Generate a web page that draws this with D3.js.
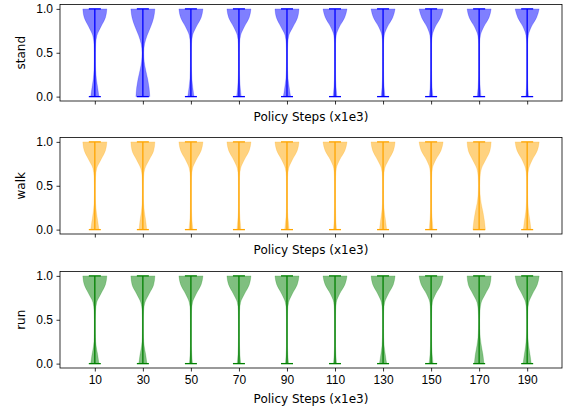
<!DOCTYPE html>
<html>
<head>
<meta charset="utf-8">
<script src="https://cdn.jsdelivr.net/npm/d3@7"></script>
<style>
    body { margin: 0; background: #fff; }
    svg { display: block; font-family: "DejaVu Sans", sans-serif; }
    .axis text { font-size: 12px; fill: #000; }
    .axis path, .axis line { stroke: #000; stroke-width: 0.8; }
    .chart-label { font-size: 12px; fill: #000; }
</style>
</head>
<body>
<div id="visualization-container"></div>
<script>
// x positions of the violins (policy steps, x1e3)
const steps = [10, 30, 50, 70, 90, 110, 130, 150, 170, 190];
// y levels at which the violin widths are read (value range 0..1)
const levels = [0, 0.1, 0.2, 0.3, 0.4, 0.5, 0.6, 0.7, 0.8, 0.9, 1.0];
const yTicks = [0.0, 0.5, 1.0];

// relative violin widths at each level (1 = widest), one row per step
const standWidths = [
    [0.34, 0.24, 0.13, 0.07, 0.05, 0.05, 0.07, 0.18, 0.52, 0.88, 1.0],
    [0.58, 0.52, 0.40, 0.24, 0.11, 0.07, 0.14, 0.36, 0.66, 0.90, 1.0],
    [0.26, 0.16, 0.08, 0.05, 0.04, 0.04, 0.05, 0.14, 0.46, 0.85, 1.0],
    [0.19, 0.11, 0.06, 0.04, 0.04, 0.04, 0.05, 0.14, 0.46, 0.85, 1.0],
    [0.30, 0.19, 0.09, 0.05, 0.04, 0.04, 0.06, 0.16, 0.52, 0.88, 1.0],
    [0.16, 0.09, 0.05, 0.04, 0.04, 0.04, 0.04, 0.10, 0.38, 0.80, 1.0],
    [0.16, 0.09, 0.05, 0.04, 0.04, 0.04, 0.04, 0.10, 0.38, 0.80, 1.0],
    [0.15, 0.08, 0.05, 0.04, 0.04, 0.04, 0.04, 0.10, 0.36, 0.78, 1.0],
    [0.16, 0.09, 0.05, 0.04, 0.04, 0.04, 0.04, 0.11, 0.40, 0.82, 1.0],
    [0.11, 0.06, 0.04, 0.04, 0.04, 0.04, 0.04, 0.10, 0.36, 0.78, 1.0]
];
const walkWidths = [
    [0.34, 0.24, 0.13, 0.06, 0.04, 0.04, 0.06, 0.16, 0.52, 0.88, 1.0],
    [0.32, 0.24, 0.13, 0.06, 0.04, 0.04, 0.06, 0.18, 0.54, 0.90, 1.0],
    [0.17, 0.09, 0.05, 0.04, 0.04, 0.04, 0.05, 0.14, 0.46, 0.85, 1.0],
    [0.17, 0.10, 0.05, 0.04, 0.04, 0.04, 0.05, 0.14, 0.46, 0.85, 1.0],
    [0.19, 0.11, 0.05, 0.04, 0.04, 0.04, 0.05, 0.14, 0.46, 0.85, 1.0],
    [0.13, 0.07, 0.05, 0.04, 0.04, 0.04, 0.05, 0.11, 0.40, 0.82, 1.0],
    [0.30, 0.21, 0.11, 0.05, 0.04, 0.04, 0.05, 0.14, 0.48, 0.86, 1.0],
    [0.16, 0.10, 0.05, 0.04, 0.04, 0.04, 0.05, 0.11, 0.40, 0.82, 1.0],
    [0.52, 0.44, 0.32, 0.17, 0.08, 0.05, 0.08, 0.20, 0.56, 0.90, 1.0],
    [0.32, 0.23, 0.12, 0.06, 0.04, 0.04, 0.05, 0.14, 0.44, 0.84, 1.0]
];
const runWidths = [
    [0.34, 0.24, 0.11, 0.05, 0.04, 0.04, 0.06, 0.16, 0.52, 0.88, 1.0],
    [0.34, 0.24, 0.11, 0.05, 0.04, 0.04, 0.06, 0.18, 0.54, 0.90, 1.0],
    [0.13, 0.07, 0.04, 0.04, 0.04, 0.04, 0.05, 0.14, 0.46, 0.85, 1.0],
    [0.15, 0.08, 0.05, 0.04, 0.04, 0.04, 0.05, 0.14, 0.48, 0.86, 1.0],
    [0.13, 0.07, 0.04, 0.04, 0.04, 0.04, 0.05, 0.14, 0.46, 0.85, 1.0],
    [0.13, 0.07, 0.04, 0.04, 0.04, 0.04, 0.05, 0.11, 0.40, 0.82, 1.0],
    [0.30, 0.19, 0.09, 0.05, 0.04, 0.04, 0.05, 0.14, 0.46, 0.85, 1.0],
    [0.17, 0.09, 0.05, 0.04, 0.04, 0.04, 0.05, 0.11, 0.40, 0.82, 1.0],
    [0.40, 0.32, 0.19, 0.09, 0.05, 0.04, 0.07, 0.18, 0.54, 0.90, 1.0],
    [0.34, 0.24, 0.13, 0.06, 0.04, 0.04, 0.05, 0.14, 0.46, 0.84, 1.0]
];

const panels = [
    { name: "stand", widths: standWidths, color: "#0000ff" },
    { name: "walk", widths: walkWidths, color: "#ffa500" },
    { name: "run", widths: runWidths, color: "#008000" }
];

const violinWidth = 10;   // in step units
const capWidth = 5;

drawFigure();


function drawFigure() {
    const widthWithMargin = 563;
    const heightWithMargin = 413;
    const left = 60, right = 562;
    const panelTops = [4.5, 137.5, 271.5];
    const panelHeight = 96.5;

    const svg = d3.select('#visualization-container').append('svg')
        .attr('width', widthWithMargin)
        .attr('height', heightWithMargin);

    const xScale = d3.scaleLinear()
        .domain([-4.5, 204.5])
        .range([left, right]);

    panels.forEach((panel, i) => {
        const top = panelTops[i];
        const bottom = top + panelHeight;
        const isLast = i === panels.length - 1;

        const yScale = d3.scaleLinear()
            .domain([-0.05, 1.05])
            .range([bottom, top]);

        const g = svg.append('g');

        const halfPx = xScale(violinWidth / 2) - xScale(0);
        const area = d3.area()
            .y((d, k) => yScale(levels[k]))
            .curve(d3.curveMonotoneY);

        steps.forEach((step, j) => {
            const cx = xScale(step);
            const w = panel.widths[j];

            g.append('path')
                .datum(w)
                .attr('d', area.x0(d => cx - d * halfPx).x1(d => cx + d * halfPx)(w))
                .attr('fill', panel.color)
                .attr('fill-opacity', 0.5)
                .attr('stroke', panel.color)
                .attr('stroke-opacity', 0.25)
                .attr('stroke-width', 0.8);

            const capHalf = xScale(capWidth / 2) - xScale(0);
            g.append('line')
                .attr('x1', cx).attr('x2', cx)
                .attr('y1', yScale(0)).attr('y2', yScale(1))
                .attr('stroke', panel.color)
                .attr('stroke-width', 1.3);
            [0, 1].forEach(v => {
                g.append('line')
                    .attr('x1', cx - capHalf).attr('x2', cx + capHalf)
                    .attr('y1', yScale(v)).attr('y2', yScale(v))
                    .attr('stroke', panel.color)
                    .attr('stroke-width', 1.3);
            });
        });

        // axes
        const xAxis = d3.axisBottom(xScale)
            .tickValues(steps)
            .tickSizeOuter(0)
            .tickSize(3.5)
            .tickPadding(3.5)
            .tickFormat(isLast ? d3.format('d') : () => '');
        svg.append('g')
            .attr('class', 'axis')
            .attr('transform', `translate(0,${bottom})`)
            .call(xAxis)
            .call(s => s.select('.domain').remove());

        const yAxis = d3.axisLeft(yScale)
            .tickValues(yTicks)
            .tickSize(3.5)
            .tickPadding(3.5)
            .tickFormat(d3.format('.1f'));
        svg.append('g')
            .attr('class', 'axis')
            .attr('transform', `translate(${left},0)`)
            .call(yAxis)
            .call(s => s.select('.domain').remove());

        svg.append('rect')
            .attr('x', left).attr('y', top)
            .attr('width', right - left).attr('height', panelHeight)
            .attr('fill', 'none')
            .attr('stroke', '#000')
            .attr('stroke-width', 0.8);

        svg.append('text')
            .attr('class', 'chart-label')
            .attr('text-anchor', 'middle')
            .attr('x', (left + right) / 2)
            .attr('y', bottom + (isLast ? 34.5 : 19.5))
            .text('Policy Steps (x1e3)');

        svg.append('text')
            .attr('class', 'chart-label')
            .attr('text-anchor', 'middle')
            .attr('transform', `translate(24.5,${(top + bottom) / 2}) rotate(-90)`)
            .text(panel.name);
    });
}
</script>
</body>
</html>
